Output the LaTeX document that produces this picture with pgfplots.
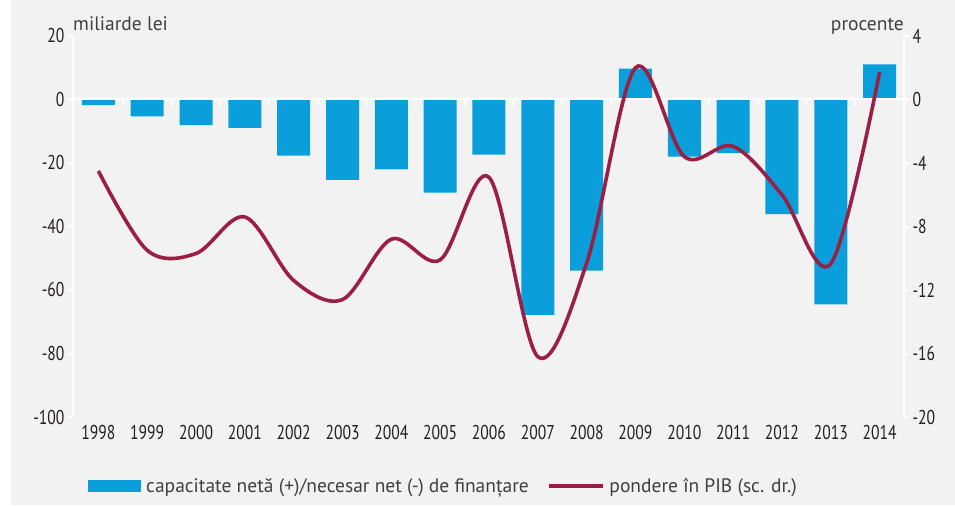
\documentclass[border=0pt]{standalone}
\usepackage{pgfplots}
\pgfplotsset{compat=1.18}
\usepackage{pgfplotstable}
\usepackage{fontspec}
\setmainfont{PT Sans}
\newfontfamily\condfont{PT Sans}[FakeStretch=0.78]
\definecolor{bgc}{HTML}{F2F2F2}
\definecolor{barc}{HTML}{0A9FDA}
\definecolor{linec}{HTML}{9B1F45}
\definecolor{tickc}{HTML}{231F20}
\definecolor{titc}{HTML}{404040}

\pgfplotstableread{
x val
0 -1.8
1 -5.3
2 -8.1
3 -8.9
4 -17.7
5 -25.3
6 -22.0
7 -29.3
8 -17.4
9 -67.8
10 -53.9
11 9.7
12 -18.0
13 -16.9
14 -36.1
15 -64.5
16 11.1
}\bars

\pgfplotstableread{
x pct
0 -4.5
1 -9.5
2 -9.7
3 -7.4
4 -11.4
5 -12.6
6 -8.8
7 -10.1
8 -4.9
9 -16.2
10 -10.3
11 2.0
12 -3.6
13 -2.95
14 -6.0
15 -10.35
16 1.72
}\pct

\begin{document}
\begin{tikzpicture}
\useasboundingbox (-73pt,-89pt) rectangle (882pt,417pt);
\fill[bgc] (-62pt,-88pt) rectangle (882pt,417pt);
\begin{axis}[
  scale only axis, width=831pt, height=381pt,
  xmin=-0.52, xmax=16.5, ymin=-100, ymax=20,
  axis x line*=bottom, axis y line*=left,
  x axis line style={draw=none},
  y axis line style={white, line width=2pt},
  xtick={0,1,...,16},
  xticklabels={1998,1999,2000,2001,2002,2003,2004,2005,2006,2007,2008,2009,2010,2011,2012,2013,2014},
  major x tick style={draw=none},
  ytick={-100,-80,...,20},
  ytick style={white, line width=2pt},
  tick align=outside, major tick length=5pt,
  tick label style={font=\condfont\fontsize{20}{24}\selectfont, text=tickc},
  /pgf/number format/assume math mode=true,
  clip=false,
]
\addplot[ybar, bar width=33pt, fill=barc, draw=none] table[x=x,y=val]{\bars};
\draw[white, line width=2pt] ([xshift=-5pt]axis cs:-0.52,0) -- ([xshift=5pt]axis cs:16.5,0);
\pgfplotsinvokeforeach{0.5,1.5,2.5,3.5,4.5,5.5,6.5,7.5,8.5,9.5,10.5,11.5,12.5,13.5,14.5,15.5}{
  \draw[white, line width=2pt] (axis cs:#1,0) -- ++(0pt,-7pt);
}
\node[anchor=base west, inner sep=0pt, text=titc, font=\fontsize{19.5}{23}\selectfont] at ([yshift=5pt]rel axis cs:0,1) {miliarde lei};
\node[anchor=base east, inner sep=0pt, text=titc, font=\fontsize{19.5}{23}\selectfont] at ([yshift=5pt]rel axis cs:1,1) {procente};
\end{axis}
\begin{axis}[
  scale only axis, width=831pt, height=381pt,
  xmin=-0.52, xmax=16.5, ymin=-20, ymax=4,
  axis x line=none, axis y line*=right,
  y axis line style={white, line width=2pt},
  ytick={-20,-16,...,4},
  ytick style={white, line width=2pt},
  tick align=outside, major tick length=5pt,
  tick label style={font=\condfont\fontsize{20}{24}\selectfont, text=tickc},
  /pgf/number format/assume math mode=true,
  clip=false,
  legend columns=2,
  legend cell align=left,
  legend style={at={(axis description cs:0.014,-0.181)}, anchor=west, draw=none, fill=none,
    font=\fontsize{19.5}{23}\selectfont, text=titc,
    /tikz/every even column/.append style={column sep=16pt}},
]
\addlegendimage{legend image code/.code={\fill[barc] (0pt,-5.5pt) rectangle (52pt,5.5pt); \path (56pt,0pt);}}
\addlegendentry{capacitate netă (+)/necesar net (-) de finanțare}
\addplot[linec, line width=3.6pt, smooth, tension=0.55,
  legend image code/.code={\draw[linec, line width=3.6pt] (0pt,0pt) -- (54pt,0pt); \path (57pt,0pt);}]
  table[x=x,y=pct]{\pct};
\addlegendentry{pondere în PIB (sc. dr.)}
\end{axis}
\end{tikzpicture}
\end{document}
